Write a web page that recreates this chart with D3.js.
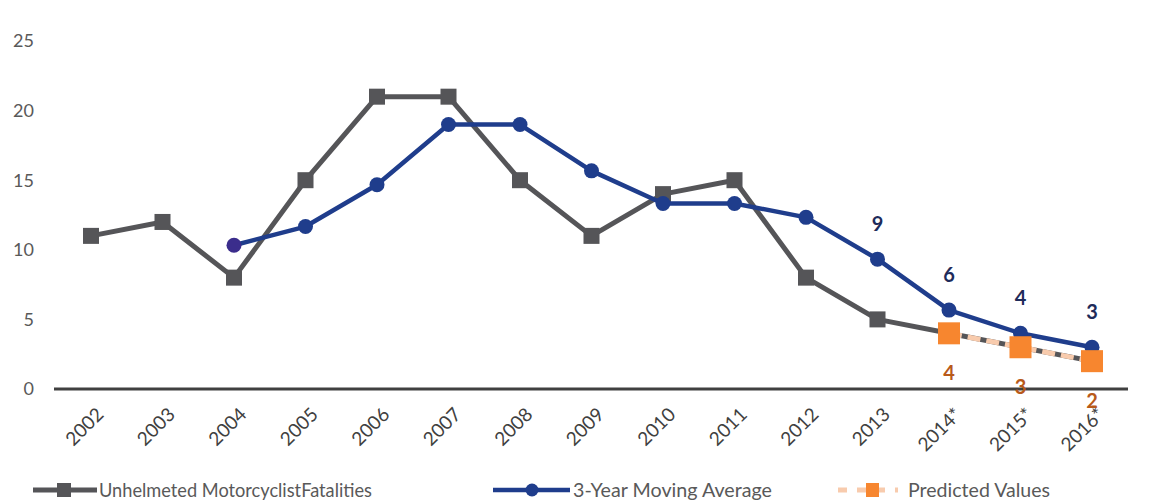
<!DOCTYPE html>
<html><head><meta charset="utf-8">
<script src="https://cdn.jsdelivr.net/npm/d3@7"></script>
<style>body{margin:0;background:#fff}svg{display:block}</style>
</head><body>
<svg id="c" width="1157" height="504"></svg>
<script>
const years = ["2002","2003","2004","2005","2006","2007","2008","2009","2010","2011","2012","2013","2014*","2015*","2016*"];
const fatalities = [11,12,8,15,21,21,15,11,14,15,8,5,4,3,2];
const movingAvg = [null,null,10.33,11.67,14.67,19,19,15.67,13.33,13.33,12.33,9.33,5.67,4,3];
const predicted = [null,null,null,null,null,null,null,null,null,null,null,null,4,3,2];
const avgLabels = [null,null,null,null,null,null,null,null,null,null,null,"9","6","4","3"];
const predLabels = [null,null,null,null,null,null,null,null,null,null,null,null,"4","3","2"];
const yTicks = [0,5,10,15,20,25];
const seriesNames = ["Unhelmeted MotorcyclistFatalities","3-Year Moving Average","Predicted Values"];

const svg = d3.select("#c");
const font = "Lato, 'Open Sans', sans-serif";
const x = d3.scalePoint().domain(years).range([91,1092]);
const y = d3.scaleLinear().domain([0,25]).range([389,41]);

// y tick labels
svg.append("g").selectAll("text").data(yTicks).join("text")
  .attr("x",34).attr("y",d=>y(d)).attr("dy","0.35em").attr("text-anchor","end")
  .attr("font-family",font).attr("font-size",18).attr("fill","#595959").text(d=>d);

// x axis line
svg.append("line").attr("x1",54).attr("x2",1128).attr("y1",y(0)).attr("y2",y(0))
  .attr("stroke","#404040").attr("stroke-width",3);

// x labels
svg.append("g").selectAll("text").data(years).join("text")
  .attr("transform",d=>`translate(${x(d)+9},${411}) rotate(-45)`)
  .attr("text-anchor","end").attr("dy","0.35em")
  .attr("font-family",font).attr("font-size",19).attr("fill","#404040").text(d=>d);

const grayC = "#555558", blueC = "#1F3D8C", orangeC = "#F7862F", peachC = "#F8CBAD";

const line = d3.line().defined(d=>d.v!=null).x(d=>x(d.k)).y(d=>y(d.v));
const pts = arr => years.map((k,i)=>({k,v:arr[i]}));

// gray series
svg.append("path").datum(pts(fatalities)).attr("d",line).attr("fill","none")
  .attr("stroke",grayC).attr("stroke-width",5).attr("stroke-linejoin","round");
svg.append("g").selectAll("rect").data(pts(fatalities).filter(d=>d.v!=null)).join("rect")
  .attr("x",d=>x(d.k)-8).attr("y",d=>y(d.v)-8).attr("width",16).attr("height",16).attr("fill",grayC);

// predicted dashed
svg.append("path").datum(pts(predicted)).attr("d",line).attr("fill","none")
  .attr("stroke",peachC).attr("stroke-width",5).attr("stroke-dasharray","13,6");

// blue series
svg.append("path").datum(pts(movingAvg)).attr("d",line).attr("fill","none")
  .attr("stroke",blueC).attr("stroke-width",4.5).attr("stroke-linejoin","round");
svg.append("g").selectAll("circle").data(pts(movingAvg).filter(d=>d.v!=null)).join("circle")
  .attr("cx",d=>x(d.k)).attr("cy",d=>y(d.v)).attr("r",7.5).attr("fill",(d,i)=>i===0?"#3B2D8C":blueC);

// predicted squares
svg.append("g").selectAll("rect").data(pts(predicted).filter(d=>d.v!=null)).join("rect")
  .attr("x",d=>x(d.k)-11).attr("y",d=>y(d.v)-11).attr("width",22).attr("height",22).attr("fill",orangeC);

// labels
svg.append("g").selectAll("text").data(years.map((k,i)=>({k,v:movingAvg[i],t:avgLabels[i]})).filter(d=>d.t)).join("text")
  .attr("x",d=>x(d.k)).attr("y",d=>y(d.v)-28).attr("text-anchor","middle")
  .attr("font-family",font).attr("font-size",20).attr("font-weight","bold").attr("fill","#1E2B5A").text(d=>d.t);
svg.append("g").selectAll("text").data(years.map((k,i)=>({k,v:predicted[i],t:predLabels[i]})).filter(d=>d.t)).join("text")
  .attr("x",d=>x(d.k)).attr("y",d=>y(d.v)+47).attr("text-anchor","middle")
  .attr("font-family",font).attr("font-size",20).attr("font-weight","bold").attr("fill","#B85A1A").text(d=>d.t);

// legend
const ly = 490;
const lg = svg.append("g");
const ltext = (xx, s, w) => lg.append("text").attr("x",xx).attr("y",ly).attr("dy","0.35em")
  .attr("font-family",font).attr("font-size",19).attr("fill","#595959")
  .attr("textLength",w).attr("lengthAdjust","spacingAndGlyphs").text(s);
lg.append("line").attr("x1",33).attr("x2",97).attr("y1",ly).attr("y2",ly).attr("stroke",grayC).attr("stroke-width",5);
lg.append("rect").attr("x",57).attr("y",ly-7).attr("width",14).attr("height",14).attr("fill",grayC);
ltext(99, seriesNames[0], 273);
lg.append("line").attr("x1",493).attr("x2",570).attr("y1",ly).attr("y2",ly).attr("stroke",blueC).attr("stroke-width",4.5);
lg.append("circle").attr("cx",532).attr("cy",ly).attr("r",6.5).attr("fill",blueC);
ltext(573, seriesNames[1], 199);
lg.append("line").attr("x1",838).attr("x2",898).attr("y1",ly).attr("y2",ly).attr("stroke",peachC).attr("stroke-width",5).attr("stroke-dasharray","9,10");
lg.append("rect").attr("x",866).attr("y",ly-7).attr("width",13).attr("height",14).attr("fill",orangeC);
ltext(908, seriesNames[2], 142);
</script>
</body></html>
